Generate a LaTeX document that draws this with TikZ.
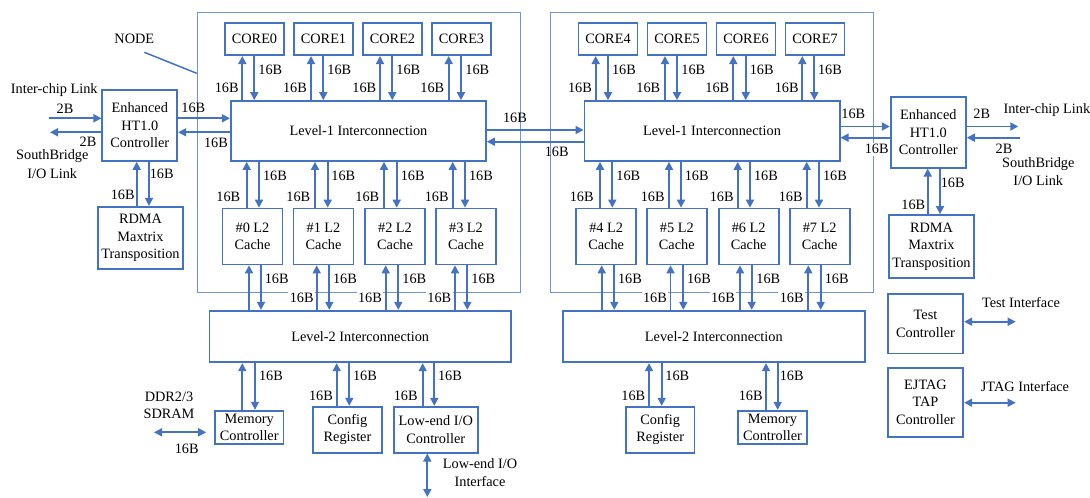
\documentclass[tikz,border=0pt]{standalone}
\usepackage{fontspec}
\setmainfont{Liberation Serif}
\usetikzlibrary{arrows.meta}
\definecolor{bl}{HTML}{4472C4}
\definecolor{frm}{HTML}{6F95D6}
\newcommand\dfont{\fontsize{14.3}{17.5}\selectfont}
\newcounter{lbn}
\newcommand\lab[3][lbl]{\stepcounter{lbn}\node[#1] (lab\arabic{lbn}) at (#2) {#3};}
% vertical connector at a given x between two node anchors
\newcommand\vlink[4]{\coordinate (vx) at (#2,0); \draw[#1] (vx |- #3) -- (vx |- #4);}
\tikzset{
  blk/.style={draw=bl, line width=1.7pt, fill=white, align=center, inner sep=0pt, font=\dfont},
  wh/.style 2 args={minimum width=#1pt, minimum height=#2pt},
  arr/.style={draw=bl, line width=1.7pt, -{Triangle[length=8pt,width=8pt]}},
  darr/.style={draw=bl, line width=1.7pt, {Triangle[length=8pt,width=8pt]}-{Triangle[length=8pt,width=8pt]}},
  lbl/.style={inner sep=1pt, font=\dfont, align=center},
  lblw/.style={lbl, fill=white, inner sep=1.5pt},
  frame/.style={draw=frm, line width=1.1pt, inner sep=0pt, anchor=north west},
}
\begin{document}
\begin{tikzpicture}[x=1pt, y=-1pt]
\useasboundingbox (0,0) rectangle (1090,498);

% node frames
\node[frame, wh={323.3}{280}] (frameL) at (196.7,11.7) {};
\node[frame, wh={323.3}{280}] (frameR) at (550,11.7) {};

% cores
\foreach \i/\x in {0/254.5,1/323.5,2/392.5,3/461.5,4/608,5/677,6/746,7/815}
  {\node[blk, wh={59}{32}] (core\i) at (\x,39.2) {CORE\i};}

% level-1 interconnections
\node[blk, wh={255.3}{60}] (l1a) at (358.4,131) {Level-1 Interconnection};
\node[blk, wh={255.3}{60}] (l1b) at (712,131) {Level-1 Interconnection};

% L2 caches
\foreach \i/\x in {0/252.5,1/323.5,2/395,3/466,4/606.2,5/676.8,6/748.7,7/819.7}
  {\node[blk, wh={60}{56}] (l2c\i) at (\x,236.5) {\#\i{} L2\\Cache};}

% level-2 interconnections
\node[blk, wh={301.7}{51.6}] (l2a) at (360.2,336.5) {Level-2 Interconnection};
\node[blk, wh={302.3}{51.6}] (l2b) at (713.8,336.5) {Level-2 Interconnection};

% peripherals
\node[blk, wh={68.3}{33.3}] (memL) at (249.2,427.3) {Memory\\Controller};
\node[blk, wh={68.4}{46}] (cfgL) at (347.5,429.7) {Config\\Register};
\node[blk, wh={83.7}{46}] (lioL) at (435.8,429.7) {Low-end I/O\\Controller};
\node[blk, wh={68.3}{46}] (cfgR) at (660.2,429.7) {Config\\Register};
\node[blk, wh={68.4}{33.6}] (memR) at (772.5,427.5) {Memory\\Controller};

\node[blk, wh={75}{71}] (htL) at (139.8,125.5) {Enhanced\\HT1.0\\Controller};
\node[blk, wh={85.6}{62.6}] (rdmaL) at (140.5,238) {RDMA\\Maxtrix\\Transposition};
\node[blk, wh={75.3}{71}] (htR) at (928.3,132.2) {Enhanced\\HT1.0\\Controller};
\node[blk, wh={85}{62.7}] (rdmaR) at (931.5,246.3) {RDMA\\Maxtrix\\Transposition};
\node[blk, wh={75.6}{59.3}] (test) at (925.5,323.7) {Test\\Controller};
\node[blk, wh={75.6}{69}] (ejtag) at (925.5,402.2) {EJTAG\\TAP\\Controller};

% core <-> level-1
\foreach \i/\u/\d in {0/242.3/254.3,1/311/323.3,2/380/392.3,3/448.7/461}{
  \vlink{arr}{\u}{l1a.north}{core\i.south}
  \vlink{arr}{\d}{core\i.south}{l1a.north}}
\foreach \i/\u/\d in {4/595.7/608,5/665/677,6/733.3/745.7,7/802.3/814.3}{
  \vlink{arr}{\u}{l1b.north}{core\i.south}
  \vlink{arr}{\d}{core\i.south}{l1b.north}}

% level-1 <-> L2 caches
\foreach \i/\u/\d in {0/246.7/259,1/315/327.7,2/384/396.7,3/452.7/465}{
  \vlink{arr}{\u}{l2c\i.north}{l1a.south}
  \vlink{arr}{\d}{l1a.south}{l2c\i.north}}
\foreach \i/\u/\d in {4/600/612.3,5/669/681,6/737.7/750,7/806.7/819}{
  \vlink{arr}{\u}{l2c\i.north}{l1b.south}
  \vlink{arr}{\d}{l1b.south}{l2c\i.north}}

% L2 caches <-> level-2
\foreach \i/\u/\d in {0/249/261,1/316.7/329.3,2/385.7/398.3,3/455/467.3}{
  \vlink{arr}{\u}{l2a.north}{l2c\i.south}
  \vlink{arr}{\d}{l2c\i.south}{l2a.north}}
\foreach \i/\u/\d in {4/601.7/614.3,5/670.5/683.3,6/740/751.7,7/808.3/820.7}{
  \vlink{arr}{\u}{l2b.north}{l2c\i.south}
  \vlink{arr}{\d}{l2c\i.south}{l2b.north}}

% level-2 <-> peripherals
\foreach \n/\u/\d in {memL/242.3/255,cfgL/336.7/349.3,lioL/422.7/434.3}{
  \vlink{arr}{\u}{\n.north}{l2a.south}
  \vlink{arr}{\d}{l2a.south}{\n.north}}
\foreach \n/\u/\d in {cfgR/649/661.7,memR/766/777.7}{
  \vlink{arr}{\u}{\n.north}{l2b.south}
  \vlink{arr}{\d}{l2b.south}{\n.north}}

% HT controllers <-> RDMA
\vlink{arr}{136.7}{rdmaL.north}{htL.south}
\vlink{arr}{149}{htL.south}{rdmaL.north}
\vlink{arr}{927.7}{rdmaR.north}{htR.south}
\vlink{arr}{940}{htR.south}{rdmaR.north}

% horizontal links
\coordinate (inL) at (49.3,118.3);
\coordinate (outL) at (50,132.3);
\draw[arr] (inL) -- (htL.west |- inL);
\draw[arr] (htL.west |- outL) -- (outL);
\draw[arr] (htL.east |- inL) -- (l1a.west |- inL);
\draw[arr] (l1a.west |- outL) -- (htL.east |- outL);

\coordinate (mA) at (0,130);
\coordinate (mB) at (0,141.7);
\draw[arr] (l1a.east |- mA) -- (l1b.west |- mA);
\draw[arr] (l1b.west |- mB) -- (l1a.east |- mB);

\coordinate (outR) at (1018.3,126.5);
\coordinate (inR) at (1020,137.7);
\draw[arr] (l1b.east |- outR) -- (htR.west |- outR);
\draw[arr] (htR.west |- inR) -- (l1b.east |- inR);
\draw[arr] (htR.east |- outR) -- (outR);
\draw[arr] (inR) -- (htR.east |- inR);

\coordinate (tI) at (1015.7,321.7);
\coordinate (jI) at (1015.7,402.7);
\draw[darr] (test.east |- tI) -- (tI);
\draw[darr] (ejtag.east |- jI) -- (jI);

\coordinate (ddrA) at (154,432.3);
\draw[darr] (ddrA) -- ([xshift=-8pt]memL.west |- ddrA);
\coordinate (lioEnd) at (427.3,497);
\draw[darr] (lioL.south -| lioEnd) -- (lioEnd);

% NODE pointer
\node[lbl] (nodelbl) at (134.3,39.3) {NODE};
\coordinate (np) at (144.3,52.3);
\coordinate (npy) at (0,73.3);
\draw[bl, line width=1.5pt] (np) -- (frameL.west |- npy);

% bandwidth labels: cores
\foreach \x in {270.3,339.3,408.3,477.3,624,693.3,761.7,830} {\lab{\x,70}{16B}}
\foreach \x in {226.7,295,364.3,432.3,580,648.3,717.3,786.7} {\lab{\x,88.3}{16B}}
% level-1 / L2
\foreach \x in {275,343.3,412.7,481,628.3,696.7,766,835} {\lab{\x,176}{16B}}
\foreach \x in {228.3,298.3,367.3,436.7,581.7,652.7,721.7,790.7} {\lab{\x,196.5}{16B}}
% L2 / level-2
\foreach \x in {276.7,345,414.3,483.3,630,699,768.3,836.7} {\lab{\x,278.5}{16B}}
\foreach \x in {301.7,370,439.3,655,723,791.7} {\lab[lblw]{\x,298}{16B}}
% level-2 / peripherals
\foreach \x in {271,365,450,677.3,791.7} {\lab{\x,376.3}{16B}}
\foreach \x in {321,405.7,633.3,750.7} {\lab{\x,395.7}{16B}}

% left HT side
\lab{54.3,90}{Inter-chip Link}
\lab{65,108.3}{2B}
\lab{88,141.5}{2B}
\lab{52.3,156.5}{SouthBridge}
\lab{52.3,173.5}{I/O Link}
\lab{193.3,108.3}{16B}
\lab{216,142.7}{16B}
\lab{161.7,174}{16B}
\lab{122.7,195}{16B}

% inter-cluster
\lab{515,118.3}{16B}
\lab{556.7,152.3}{16B}

% right HT side
\lab{853.3,114.3}{16B}
\lab[lblw]{876.7,149.3}{16B}
\lab{981.7,113.3}{2B}
\lab{1004,149}{2B}
\lab[lbl, anchor=west]{1002.3,110}{Inter-chip Link}
\lab{1038.3,163.8}{SouthBridge}
\lab{1038.3,180.5}{I/O Link}
\lab{952.7,183.3}{16B}
\lab{913.3,205}{16B}

% test / jtag
\lab{1021,302.7}{Test Interface}
\lab{1025,386.7}{JTAG Interface}

% memory / low-end I/O
\lab{169,397.3}{DDR2/3}
\lab{169,414}{SDRAM}
\lab{186.7,449.3}{16B}
\lab{480,463.3}{Low-end I/O}
\lab{480,481.7}{Interface}
\end{tikzpicture}
\end{document}
